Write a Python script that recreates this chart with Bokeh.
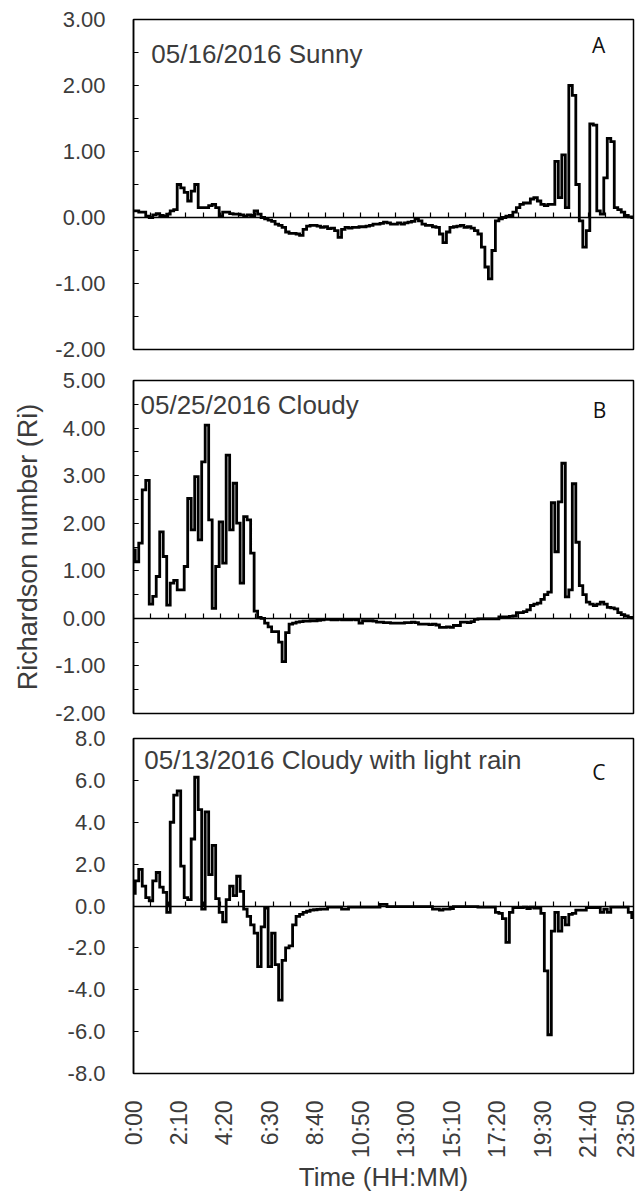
from math import pi
from bokeh.plotting import figure
from bokeh.layouts import column
from bokeh.models import (Range1d, LinearAxis, SingleIntervalTicker, FixedTicker,
                          NumeralTickFormatter, CustomJSTickFormatter, Label)
from bokeh.embed import file_html
from bokeh.resources import INLINE

# ---- data -------------------------------------------------------------
minutes = list(range(0, 1440, 10))  # 0:00 .. 23:50, 10-minute records

tick_minutes = [0, 130, 260, 390, 520, 650, 780, 910, 1040, 1170, 1300, 1430]
tick_labels = ["0:00", "2:10", "4:20", "6:30", "8:40", "10:50", "13:00",
               "15:10", "17:20", "19:30", "21:40", "23:50"]

panel_titles = ["05/16/2016 Sunny", "05/25/2016 Cloudy",
                "05/13/2016 Cloudy with light rain"]
panel_letters = ["A", "B", "C"]

ri_sunny = [
    0.10, 0.10, 0.08, 0.08, 0.02, 0.00, 0.04, 0.06, 0.03, 0.02,
    0.05, 0.10, 0.12, 0.50, 0.45, 0.38, 0.25, 0.40, 0.50, 0.15,
    0.15, 0.15, 0.18, 0.20, 0.15, 0.02, 0.08, 0.08, 0.06, 0.05,
    0.05, 0.04, 0.02, 0.04, 0.03, 0.10, 0.05, 0.00, -0.02, -0.04,
    -0.06, -0.10, -0.12, -0.15, -0.22, -0.24, -0.24, -0.25, -0.27, -0.18,
    -0.13, -0.12, -0.12, -0.13, -0.15, -0.14, -0.17, -0.16, -0.20, -0.30,
    -0.18, -0.15, -0.16, -0.15, -0.15, -0.14, -0.14, -0.13, -0.12, -0.10,
    -0.10, -0.09, -0.07, -0.08, -0.10, -0.10, -0.08, -0.10, -0.08, -0.07,
    -0.06, -0.02, -0.05, -0.10, -0.12, -0.12, -0.14, -0.15, -0.25, -0.38,
    -0.22, -0.15, -0.14, -0.13, -0.12, -0.15, -0.14, -0.16, -0.20, -0.25,
    -0.45, -0.75, -0.93, -0.50, -0.05, -0.02, 0.00, 0.02, 0.03, 0.08,
    0.15, 0.20, 0.22, 0.22, 0.28, 0.30, 0.25, 0.20, 0.18, 0.20,
    0.20, 0.85, 0.30, 0.95, 0.15, 2.00, 1.85, 0.50, -0.05, -0.45,
    -0.20, 1.42, 1.40, 0.10, 0.05, 0.60, 1.20, 1.15, 0.15, 0.12,
    0.08, 0.03, 0.01, 0.00,
]

ri_cloudy = [
    1.44, 1.19, 1.58, 2.70, 2.90, 0.30, 0.46, 0.88, 1.82, 1.30,
    0.28, 0.74, 0.80, 0.60, 0.60, 1.09, 2.52, 1.86, 2.98, 1.65,
    3.29, 4.06, 2.07, 0.21, 1.09, 2.03, 1.16, 3.43, 1.86, 2.84,
    2.00, 0.74, 2.14, 2.07, 1.37, 0.15, 0.02, 0.00, -0.10, -0.18,
    -0.28, -0.28, -0.50, -0.91, -0.30, -0.12, -0.10, -0.08, -0.07, -0.06,
    -0.06, -0.05, -0.05, -0.04, -0.03, -0.02, -0.02, -0.03, -0.03, -0.02,
    -0.03, -0.03, -0.03, -0.02, -0.03, -0.10, -0.05, -0.05, -0.05, -0.06,
    -0.08, -0.08, -0.09, -0.09, -0.10, -0.10, -0.10, -0.10, -0.09, -0.09,
    -0.08, -0.09, -0.12, -0.12, -0.12, -0.13, -0.12, -0.14, -0.19, -0.19,
    -0.18, -0.19, -0.15, -0.15, -0.08, -0.08, -0.09, -0.07, -0.02, -0.01,
    -0.01, -0.01, -0.01, -0.01, -0.01, 0.03, 0.03, 0.03, 0.04, 0.05,
    0.12, 0.12, 0.14, 0.18, 0.27, 0.30, 0.32, 0.40, 0.50, 0.55,
    2.43, 1.40, 2.45, 3.26, 0.45, 0.60, 2.83, 1.60, 0.69, 0.50,
    0.34, 0.30, 0.27, 0.30, 0.34, 0.30, 0.23, 0.22, 0.20, 0.12,
    0.08, 0.05, 0.02, 0.01,
]

ri_rain = [
    0.60, 1.20, 1.75, 0.95, 0.40, 0.25, 1.20, 1.60, 0.90, 0.65,
    -0.30, 4.00, 5.30, 5.50, 1.90, 0.40, 0.30, 3.20, 6.15, 4.60,
    -0.15, 4.50, 1.50, 2.90, 0.35, -0.30, -0.76, 0.30, 0.95, 0.50,
    1.42, 0.70, -0.15, -0.50, -0.90, -1.30, -2.90, -1.00, -0.10, -2.90,
    -1.30, -2.80, -4.50, -2.60, -2.00, -1.90, -0.90, -0.50, -0.40, -0.30,
    -0.25, -0.20, -0.18, -0.16, -0.15, -0.15, -0.05, -0.05, -0.05, -0.05,
    -0.15, -0.15, -0.05, -0.05, -0.05, -0.05, -0.05, -0.05, -0.05, -0.05,
    -0.05, 0.08, 0.08, -0.03, -0.03, -0.03, -0.03, -0.03, -0.03, -0.03,
    -0.03, -0.03, -0.03, -0.03, -0.03, -0.03, -0.15, -0.15, -0.20, -0.15,
    -0.15, -0.12, -0.03, -0.03, -0.03, -0.03, -0.03, -0.03, -0.03, -0.05,
    -0.05, -0.05, -0.05, -0.05, -0.30, -0.35, -0.60, -1.74, -0.30, -0.08,
    -0.08, -0.08, -0.05, -0.12, -0.05, -0.10, -0.10, -0.35, -3.10, -6.15,
    -1.20, -0.30, -1.20, -0.55, -0.90, -0.40, -0.35, -0.20, -0.20, -0.20,
    -0.08, -0.08, -0.08, -0.08, -0.30, -0.15, -0.30, -0.05, -0.05, -0.05,
    -0.05, -0.05, -0.30, -0.55,
]

# ---- styling ----------------------------------------------------------
FONT = "Liberation Sans"
GRAY = "#3c3c3c"
W = 638


def make_panel(vals, lo, hi, interval, nminor, fmt, height, left, right, top, bottom,
               title, title_xy, letter, letter_xy):
    p = figure(width=W, height=height, x_range=Range1d(0, 1430), y_range=Range1d(lo, hi),
               output_backend="svg", toolbar_location=None,
               x_axis_location=None, y_axis_location=None,
               min_border_left=left, min_border_right=right,
               min_border_top=top, min_border_bottom=bottom)
    p.xgrid.visible = False
    p.ygrid.visible = False
    p.outline_line_color = "black"
    p.outline_line_width = 1.5
    p.background_fill_color = "white"
    p.border_fill_color = "white"

    yax = LinearAxis(ticker=SingleIntervalTicker(interval=interval, num_minor_ticks=nminor),
                     formatter=NumeralTickFormatter(format=fmt))
    yax.major_tick_in = 5
    yax.major_tick_out = 0
    yax.minor_tick_in = 5
    yax.minor_tick_out = 0
    if nminor < 2:
        yax.minor_tick_line_color = None
    yax.major_tick_line_width = 1.2
    yax.minor_tick_line_width = 1.2
    yax.major_label_standoff = 28
    yax.major_label_text_font = FONT
    yax.major_label_text_font_size = "22px"
    yax.major_label_text_color = GRAY
    yax.axis_line_color = "black"
    yax.axis_line_width = 1.5
    p.add_layout(yax, "left")

    # horizontal axis line crossing at Ri = 0, tick marks only
    zax = LinearAxis(fixed_location=0,
                     ticker=SingleIntervalTicker(interval=50, num_minor_ticks=0),
                     formatter=CustomJSTickFormatter(code="return ''"))
    zax.major_tick_in = 5
    zax.major_tick_out = 0
    zax.minor_tick_line_color = None
    zax.axis_line_color = "black"
    zax.axis_line_width = 1.5
    zax.major_tick_line_width = 1.2
    p.add_layout(zax, "below")

    p.step(x=minutes, y=vals, mode="center", line_color="black", line_width=2.8,
           line_join="miter")

    p.add_layout(Label(x=title_xy[0], y=title_xy[1], text=title, text_font=FONT,
                       text_font_size="26px", text_color=GRAY,
                       text_baseline="alphabetic", text_align="left"))
    p.add_layout(Label(x=letter_xy[0], y=letter_xy[1], text=letter, text_font="Open Sans",
                       text_font_size="21px", text_color="#111111",
                       text_baseline="alphabetic", text_align="center"))
    return p, yax


pA, _ = make_panel(ri_sunny, -2, 3, 1, 2, "0.00", 364, 133, 5, 19, 15,
                   panel_titles[0], (51, 2.47), panel_letters[0], (1330, 2.62))
pB, yB = make_panel(ri_cloudy, -2, 5, 1, 2, "0.00", 361, 133, 3, 16, 12,
                    panel_titles[1], (20, 4.48), panel_letters[1], (1333, 4.37))
pC, _ = make_panel(ri_rain, -8, 8, 2, 0, "0.0", 470, 129, 5, 13, 120,
                   panel_titles[2], (31, 6.96), panel_letters[2], (1331, 6.38))

yB.axis_label = "Richardson number (Ri)"
yB.axis_label_text_font = FONT
yB.axis_label_text_font_size = "27px"
yB.axis_label_text_font_style = "normal"
yB.axis_label_text_color = GRAY
yB.axis_label_standoff = 9

xax = LinearAxis(ticker=FixedTicker(ticks=tick_minutes),
                 major_label_overrides={t: s for t, s in zip(tick_minutes, tick_labels)})
xax.major_label_orientation = pi / 2
xax.major_tick_in = 0
xax.major_tick_out = 0
xax.minor_tick_line_color = None
xax.major_label_standoff = 27
xax.major_label_text_font = FONT
xax.major_label_text_font_size = "23px"
xax.major_label_text_color = GRAY
xax.axis_line_color = None
xax.axis_label = "Time (HH:MM)"
xax.axis_label_text_font = FONT
xax.axis_label_text_font_size = "26px"
xax.axis_label_text_font_style = "normal"
xax.axis_label_text_color = GRAY
xax.axis_label_standoff = 1
pC.add_layout(xax, "below")

layout = column(pA, pB, pC, spacing=0)

open("out.html", "w").write(file_html(layout, INLINE))
